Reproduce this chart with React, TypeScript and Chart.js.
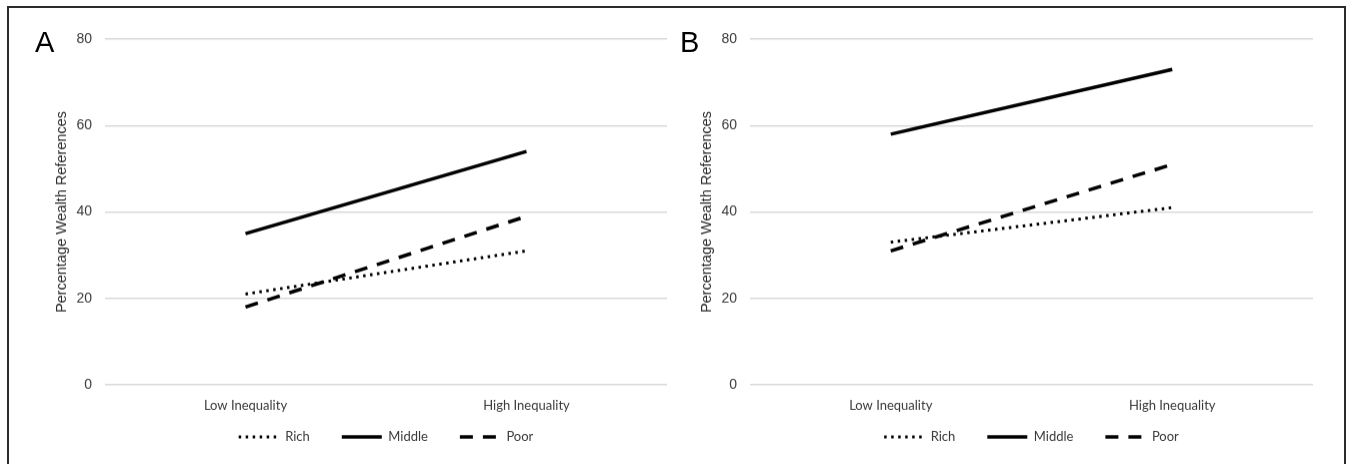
import React, { useEffect, useRef } from "react";
import { Chart, registerables } from "chart.js";

Chart.register(...registerables);

const categories = ["Low Inequality", "High Inequality"];
const seriesNames = ["Rich", "Middle", "Poor"];
const yMin = 0;
const yMax = 80;
const yStep = 20;
const yTitle = "Percentage Wealth References";

const richA = [21, 31];
const middleA = [35, 54];
const poorA = [18, 39];

const richB = [33, 41];
const middleB = [58, 73];
const poorB = [31, 51];

const panelLetters = ["A", "B"];

const seriesStyles = [
  { borderWidth: 3, borderDash: [2.5, 4.5] },
  { borderWidth: 3.5, borderDash: [] as number[] },
  { borderWidth: 3.5, borderDash: [13, 10] },
];

const tickFont = { family: "'Liberation Sans', Arial, sans-serif", size: 14 };
const catFont = { family: "Lato, 'Open Sans', sans-serif", size: 13 };
const legendFont = { family: "Lato, 'Open Sans', sans-serif", size: 13 };

const legendShift = {
  id: "legendShift",
  afterLayout(chart: any) {
    const l = chart.legend;
    if (!l || !chart.chartArea) return;
    const top = chart.chartArea.bottom + 13.5;
    l.top = top;
    l.bottom = top + l.height;
  },
};

function Panel({ values, left, width }: { values: number[][]; left: number; width: number }) {
  const ref = useRef<HTMLCanvasElement | null>(null);
  useEffect(() => {
    if (!ref.current) return;
    const chart = new Chart(ref.current, {
      type: "line",
      data: {
        labels: categories,
        datasets: values.map((v, i) => ({
          label: seriesNames[i],
          data: v,
          borderColor: "#000",
          backgroundColor: "#000",
          borderWidth: seriesStyles[i].borderWidth,
          borderDash: seriesStyles[i].borderDash,
          borderCapStyle: "butt",
          pointRadius: 0,
          pointHoverRadius: 0,
          fill: false,
          tension: 0,
        })),
      },
      plugins: [legendShift],
      options: {
        animation: false,
        responsive: true,
        maintainAspectRatio: false,
        layout: { padding: { top: 29, left: 0, right: 13, bottom: 0 } },
        scales: {
          x: {
            offset: true,
            grid: { display: false, drawTicks: false },
            border: { display: false },
            ticks: { font: catFont, color: "#3a3a3a", padding: 13, maxRotation: 0, autoSkip: false },
          },
          y: {
            min: yMin,
            max: yMax,
            grid: { color: "#d9d9d9", lineWidth: 1.5, drawTicks: false },
            border: { display: false },
            ticks: { stepSize: yStep, font: tickFont, color: "#3a3a3a", padding: 13 },
            title: {
              display: true,
              text: yTitle,
              font: { family: "'Liberation Sans', Arial, sans-serif", size: 14.5 },
              color: "#2a2a2a",
              padding: { top: 33, bottom: 0 },
            },
            afterFit: (s: any) => {
              s.width = 85;
            },
          },
        },
        plugins: {
          tooltip: { enabled: false },
          legend: {
            position: "bottom",
            fullSize: false,
            labels: {
              usePointStyle: true,
              pointStyleWidth: 40,
              boxWidth: 40,
              padding: 32,
              font: legendFont,
              color: "#3a3a3a",
              generateLabels: (c: any) =>
                c.data.datasets.map((ds: any, i: number) => ({
                  text: ds.label,
                  fillStyle: "#000",
                  strokeStyle: "#000",
                  lineWidth: ds.borderWidth,
                  lineDash: ds.borderDash,
                  lineCap: "butt",
                  pointStyle: "line",
                  hidden: false,
                  datasetIndex: i,
                  fontColor: "#3a3a3a",
                })),
            },
          },
        },
      },
    } as any);
    return () => chart.destroy();
  }, []);
  return (
    <div style={{ position: "absolute", left, top: 10, width, height: 470.6 }}>
      <canvas ref={ref} />
    </div>
  );
}

export default function App() {
  const letterStyle: React.CSSProperties = {
    position: "absolute",
    top: 28,
    fontFamily: "'Liberation Sans', Arial, sans-serif",
    fontSize: 29,
    lineHeight: "28px",
    color: "#000",
  };
  return (
    <div
      style={{
        position: "absolute",
        left: 0,
        top: 0,
        width: 1346,
        height: 464,
        overflow: "hidden",
        background: "#fff",
      }}
    >
      <div
        style={{
          position: "absolute",
          left: 7,
          top: 6,
          width: 1339,
          height: 500,
          border: "2px solid #2b2b2b",
          boxSizing: "border-box",
        }}
      />
      <Panel values={[richA, middleA, poorA]} left={20} width={660} />
      <Panel values={[richB, middleB, poorB]} left={665} width={661} />
      <div style={{ ...letterStyle, left: 35 }}>{panelLetters[0]}</div>
      <div style={{ ...letterStyle, left: 680 }}>{panelLetters[1]}</div>
    </div>
  );
}
